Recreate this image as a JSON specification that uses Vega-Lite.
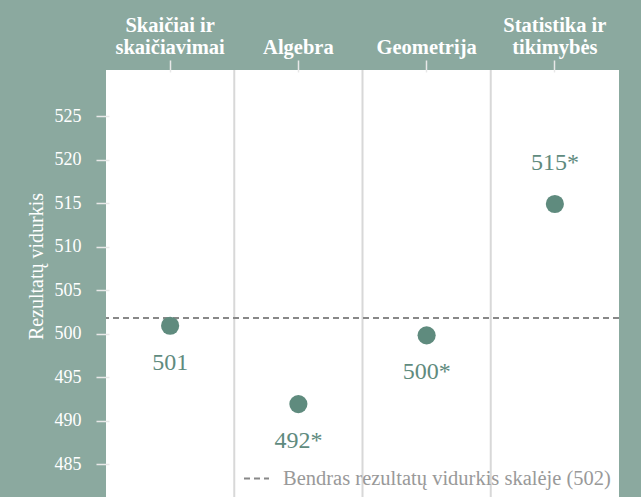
{
  "$schema": "https://vega.github.io/schema/vega-lite/v6.json",
  "width": 513,
  "height": 427,
  "autosize": "none",
  "padding": {"left": 106, "top": 70, "right": 22, "bottom": 0},
  "background": "#8ba99f",
  "config": {"view": {"fill": "white", "stroke": null}, "font": "Liberation Serif"},
  "datasets": {
    "scores": [
      {"cat": "Skaičiai ir|skaičiavimai", "score": 500.9, "label": "501", "pos": "below"},
      {"cat": "|Algebra", "score": 491.9, "label": "492*", "pos": "below"},
      {"cat": "|Geometrija", "score": 499.8, "label": "500*", "pos": "below"},
      {"cat": "Statistika ir|tikimybės", "score": 514.9, "label": "515*", "pos": "above"}
    ],
    "seps": [
      {"cat": "|Algebra"},
      {"cat": "|Geometrija"},
      {"cat": "Statistika ir|tikimybės"}
    ],
    "avg": [{"score": 501.8, "name": "Bendras rezultatų vidurkis skalėje (502)"}]
  },
  "layer": [
    {
      "data": {"name": "seps"},
      "mark": {"type": "rule", "color": "#d8d8d8", "strokeWidth": 2},
      "encoding": {
        "x": {
          "field": "cat", "type": "nominal", "sort": null, "bandPosition": 0,
          "scale": {"domain": ["Skaičiai ir|skaičiavimai", "|Algebra", "|Geometrija", "Statistika ir|tikimybės"], "paddingInner": 0, "paddingOuter": 0},
          "axis": {
            "orient": "top", "title": null, "domain": false, "labelAngle": 0,
            "labelExpr": "split(datum.label, '|')",
            "labelFont": "Liberation Serif", "labelFontWeight": "bold", "labelFontSize": 20.5, "labelColor": "white",
            "labelLineHeight": 22, "labelBaseline": "alphabetic", "labelPadding": 29, "labelLimit": 300,
            "tickSize": 12, "offset": -2, "tickColor": "#e8e8e8", "tickWidth": 1.5
          }
        }
      }
    },
    {
      "data": {"name": "avg"},
      "mark": {"type": "rule", "color": "#888888", "strokeWidth": 2},
      "encoding": {
        "y": {
          "field": "score", "type": "quantitative",
          "scale": {"domain": [481.22, 530.3], "nice": false, "zero": false},
          "axis": {
            "values": [485, 490, 495, 500, 505, 510, 515, 520, 525],
            "domain": false, "grid": false, "offset": -3, "tickSize": 13, "tickColor": "#e8e8e8", "tickWidth": 1.5,
            "labelFont": "Liberation Serif", "labelFontSize": 18, "labelColor": "white", "labelPadding": 15,
            "title": "Rezultatų vidurkis", "titleColor": "white", "titleFont": "Liberation Serif", "titleFontSize": 20,
            "titleFontWeight": "normal", "titlePadding": 8, "titleY": 196
          }
        },
        "strokeDash": {
          "field": "name", "type": "nominal",
          "scale": {"range": [[6, 4]]},
          "legend": {
            "orient": "bottom-right", "title": null, "labelFont": "Liberation Serif", "labelFontSize": 20.5,
            "labelColor": "#999999", "labelLimit": 500, "symbolType": "stroke", "symbolStrokeColor": "#888888",
            "symbolStrokeWidth": 2, "symbolSize": 625, "labelOffset": 13, "offset": 8, "padding": 0
          }
        }
      }
    },
    {
      "data": {"name": "scores"},
      "mark": {"type": "circle", "size": 330, "color": "#5f8b7e", "opacity": 1},
      "encoding": {
        "x": {
          "field": "cat", "type": "nominal", "sort": null,
          "scale": {"domain": ["Skaičiai ir|skaičiavimai", "|Algebra", "|Geometrija", "Statistika ir|tikimybės"], "paddingInner": 0, "paddingOuter": 0},
          "axis": {
            "orient": "top", "title": null, "domain": false, "labelAngle": 0,
            "labelExpr": "split(datum.label, '|')",
            "labelFont": "Liberation Serif", "labelFontWeight": "bold", "labelFontSize": 20.5, "labelColor": "white",
            "labelLineHeight": 22, "labelBaseline": "alphabetic", "labelPadding": 29, "labelLimit": 300,
            "tickSize": 12, "offset": -2, "tickColor": "#e8e8e8", "tickWidth": 1.5
          }
        },
        "y": {
          "field": "score", "type": "quantitative",
          "scale": {"domain": [481.22, 530.3], "nice": false, "zero": false},
          "axis": {
            "values": [485, 490, 495, 500, 505, 510, 515, 520, 525],
            "domain": false, "grid": false, "offset": -3, "tickSize": 13, "tickColor": "#e8e8e8", "tickWidth": 1.5,
            "labelFont": "Liberation Serif", "labelFontSize": 18, "labelColor": "white", "labelPadding": 15,
            "title": "Rezultatų vidurkis", "titleColor": "white", "titleFont": "Liberation Serif", "titleFontSize": 20,
            "titleFontWeight": "normal", "titlePadding": 8, "titleY": 196
          }
        }
      }
    },
    {
      "data": {"name": "scores"},
      "transform": [{"filter": "datum.pos === 'below'"}],
      "mark": {"type": "text", "dy": 37, "fontSize": 24, "color": "#5f8b7e", "font": "Liberation Serif"},
      "encoding": {
        "x": {"field": "cat", "type": "nominal", "sort": null},
        "y": {"field": "score", "type": "quantitative"},
        "text": {"field": "label"}
      }
    },
    {
      "data": {"name": "scores"},
      "transform": [{"filter": "datum.pos === 'above'"}],
      "mark": {"type": "text", "dy": -41, "fontSize": 24, "color": "#5f8b7e", "font": "Liberation Serif"},
      "encoding": {
        "x": {"field": "cat", "type": "nominal", "sort": null},
        "y": {"field": "score", "type": "quantitative"},
        "text": {"field": "label"}
      }
    }
  ]
}
